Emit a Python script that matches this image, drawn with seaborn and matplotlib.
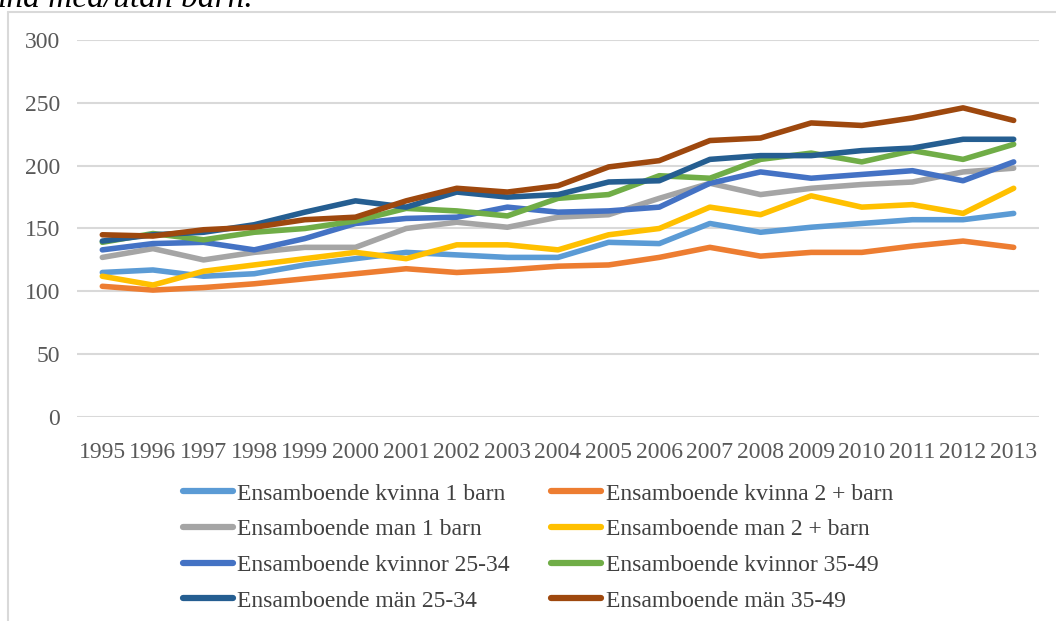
import matplotlib
matplotlib.use("Agg")
import matplotlib.pyplot as plt
from matplotlib.lines import Line2D
import seaborn as sns
import pandas as pd

years = [str(y) for y in range(1995, 2014)]
series_names = [
    "Ensamboende kvinna 1 barn",
    "Ensamboende kvinna 2 + barn",
    "Ensamboende man 1 barn",
    "Ensamboende man 2 + barn",
    "Ensamboende kvinnor 25-34",
    "Ensamboende kvinnor 35-49",
    "Ensamboende män 25-34",
    "Ensamboende män 35-49",
]
kvinna_1 = [115, 117, 112, 114, 121, 126, 131, 129, 127, 127, 139, 138, 154, 147, 151, 154, 157, 157, 162]
kvinna_2 = [104, 101, 103, 106, 110, 114, 118, 115, 117, 120, 121, 127, 135, 128, 131, 131, 136, 140, 135]
man_1 = [127, 134, 125, 131, 135, 135, 150, 155, 151, 159, 161, 174, 186, 177, 182, 185, 187, 195, 198]
man_2 = [112, 105, 116, 121, 126, 131, 126, 137, 137, 133, 145, 150, 167, 161, 176, 167, 169, 162, 182]
kvinnor_25_34 = [133, 138, 139, 133, 142, 154, 158, 159, 167, 163, 164, 167, 186, 195, 190, 193, 196, 188, 203]
kvinnor_35_49 = [139, 146, 141, 147, 150, 156, 166, 164, 160, 174, 177, 192, 190, 205, 210, 203, 212, 205, 217]
man_25_34 = [140, 145, 147, 153, 163, 172, 167, 179, 175, 177, 187, 188, 205, 208, 208, 212, 214, 221, 221]
man_35_49 = [145, 144, 149, 151, 157, 159, 172, 182, 179, 184, 199, 204, 220, 222, 234, 232, 238, 246, 236]
y_ticks = [0, 50, 100, 150, 200, 250, 300]

colors = ["#5B9BD5", "#ED7D31", "#A5A5A5", "#FFC000", "#4472C4", "#70AD47", "#255E91", "#9E480E"]

all_values = [kvinna_1, kvinna_2, man_1, man_2, kvinnor_25_34, kvinnor_35_49, man_25_34, man_35_49]
rows = []
for name, vals in zip(series_names, all_values):
    for i, (yr, v) in enumerate(zip(years, vals)):
        rows.append({"idx": i, "year": yr, "serie": name, "value": v})
df = pd.DataFrame(rows)

sns.set_theme(style="white")
plt.rcParams["font.family"] = ["Liberation Serif", "DejaVu Serif"]

fig = plt.figure(figsize=(10.56, 6.21), dpi=100)
ax = fig.add_axes([77 / 1056, 1 - 417 / 621, (1039 - 77) / 1056, (417 - 40) / 621])

sns.lineplot(data=df, x="idx", y="value", hue="serie", hue_order=series_names,
             palette=colors, linewidth=4, ax=ax, legend=False,
             solid_capstyle="round")

ax.set_xlim(-0.5, len(years) - 0.5)
ax.set_ylim(0, 300)
ax.set_xticks(range(len(years)))
ax.set_xticklabels(years)
ax.set_yticks(y_ticks)
ax.set_yticklabels([str(t) for t in y_ticks])
ax.set_xlabel("")
ax.set_ylabel("")
for s in ax.spines.values():
    s.set_visible(False)
ax.grid(axis="y", color="#D9D9D9", linewidth=1.5)
ax.grid(axis="x", visible=False)
ax.set_axisbelow(True)
ax.tick_params(axis="both", length=0, labelsize=17, colors="#595959")
ax.tick_params(axis="y", pad=12)
ax.tick_params(axis="x", pad=18)

# legend filled row by row (matplotlib fills column-wise, so reorder)
order = [0, 2, 4, 6, 1, 3, 5, 7]
handles = [Line2D([0], [0], color=colors[i], linewidth=4.5, solid_capstyle="round") for i in order]
labels = [series_names[i] for i in order]
fig.legend(handles, labels, ncol=2, loc="upper left", bbox_to_anchor=(183 / 1056, 1 - 483 / 621),
           frameon=False, fontsize=17, handlelength=2.1, handletextpad=0.2, borderpad=0,
           borderaxespad=0, columnspacing=1.75, labelspacing=0.6, labelcolor="#404040")

# frame of the embedded chart
fig.add_artist(Line2D([8 / 1056, 8 / 1056], [0, 1 - 12 / 621], color="#D9D9D9", linewidth=1.5))
fig.add_artist(Line2D([8 / 1056, 1], [1 - 12 / 621, 1 - 12 / 621], color="#D9D9D9", linewidth=1.5))

# cut-off caption of the document above the chart
fig.text(253 / 1056, 1 - 7 / 621, "Ensamstående kvinna med/utan barn.", ha="right", va="baseline",
         fontsize=24, style="italic", color="black")

fig.savefig("out.png", dpi=100)
